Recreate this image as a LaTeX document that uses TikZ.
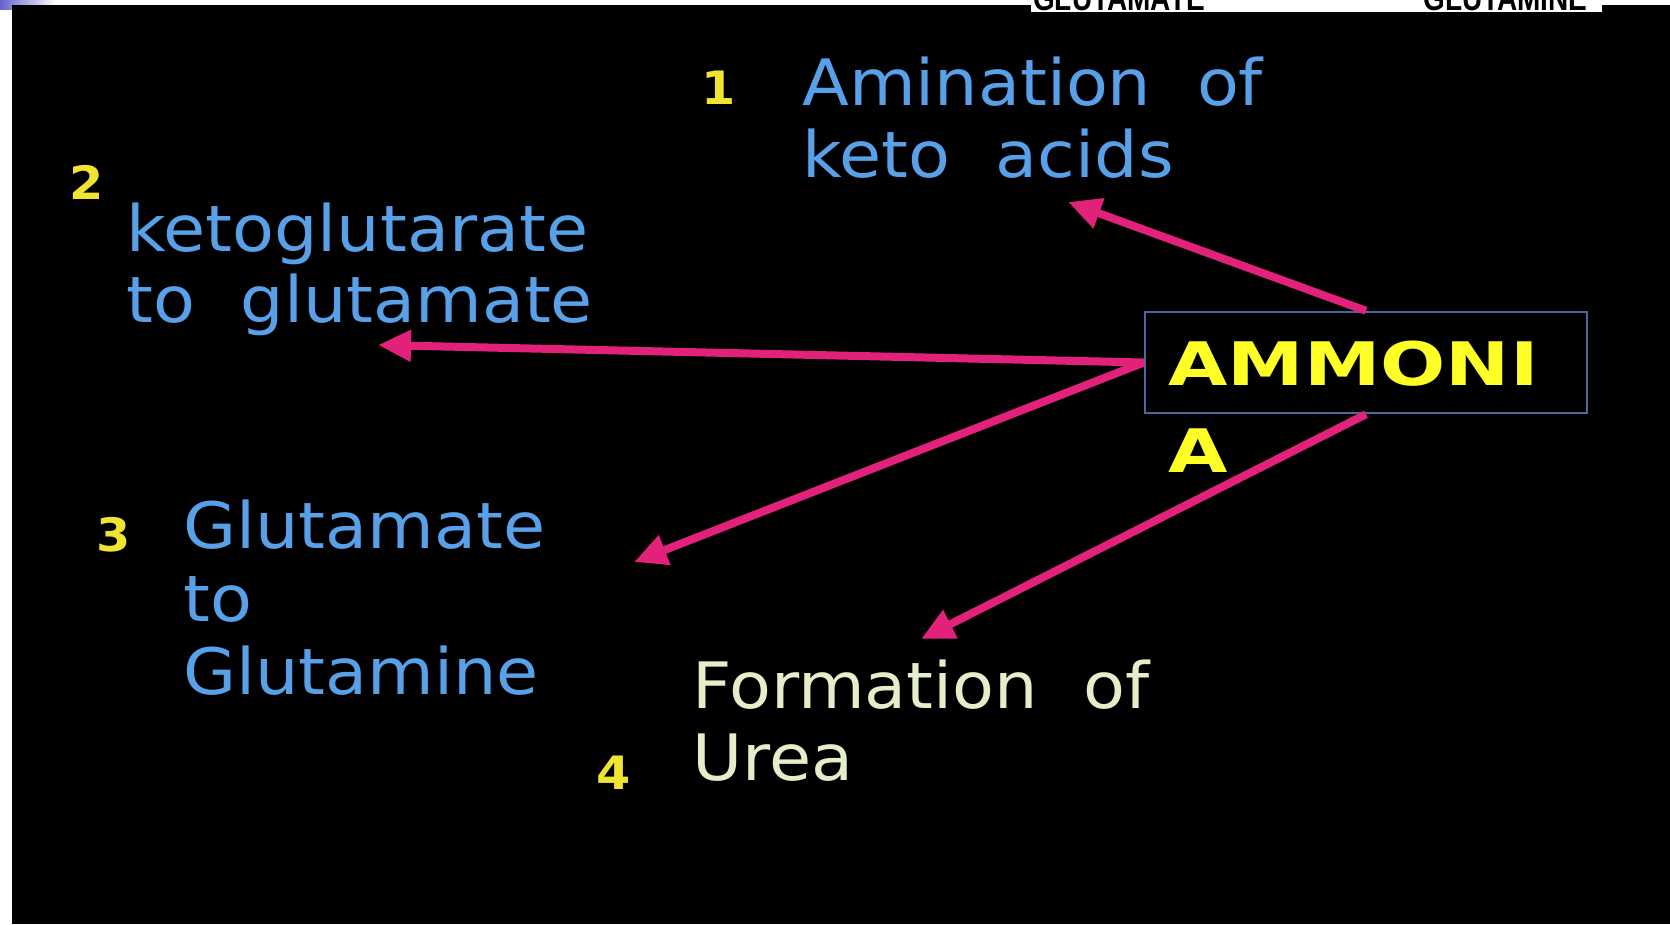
\documentclass[tikz,border=0pt]{standalone}
\usepackage{fontspec}
\usetikzlibrary{arrows.meta}
\setmainfont{DejaVu Sans}
\newfontfamily\comic[FakeStretch=1.07,WordSpace=2.1]{DejaVu Sans}
\newfontfamily\comicwide[FakeStretch=1.28]{DejaVu Sans}
\newfontfamily\glfont[FakeStretch=0.8]{Liberation Sans}
\definecolor{txtblue}{RGB}{88,160,232}
\definecolor{numyellow}{RGB}{240,228,50}
\definecolor{amyellow}{RGB}{255,255,40}
\definecolor{cream}{RGB}{228,238,200}
\definecolor{arrpink}{RGB}{226,34,122}
\definecolor{boxblue}{RGB}{74,104,160}
\definecolor{gradblue}{RGB}{100,100,205}
\tikzset{
  base/.style={anchor=base west, inner sep=0pt},
  bluetxt/.style={base, text=txtblue, font=\comic\fontsize{64}{76}\selectfont},
  creamtxt/.style={base, text=cream, font=\comic\fontsize{64}{76}\selectfont},
  numtxt/.style={base, text=numyellow, font=\comic\bfseries\fontsize{46}{54}\selectfont},
  amtxt/.style={base, text=amyellow, font=\comicwide\bfseries\fontsize{60}{70}\selectfont},
  ambox/.style={draw=boxblue, line width=2.5pt, minimum width=442pt, minimum height=101pt, inner sep=0pt},
  arr/.style={draw=arrpink, line width=8pt, -{Triangle[length=33pt,width=30pt]}},
  gltxt/.style={base, text=black, font=\glfont\bfseries\fontsize{35}{40}\selectfont}
}
\begin{document}
\begin{tikzpicture}[x=1pt,y=-1pt]
\useasboundingbox (0,0) rectangle (1670,924);
% background
\fill[white] (0,0) rectangle (1670,924);
\shade[left color=gradblue, right color=white] (0,0) rectangle (56,9);
\fill[black] (12,5) rectangle (1670,924);
% cut-off header
\fill[white] (1031,0) rectangle (1602,12);
\begin{scope}
\clip (1031,0) rectangle (1602,12);
\node[gltxt] (g1) at (1033,10) {GLUTAMATE};
\node[gltxt] (g2) at (1423,10) {GLUTAMINE};
\end{scope}
% central box
\node[ambox] (box) at (1366,362.5) {};
\node[amtxt] (am1) at (1168,385) {AMMONI};
\node[amtxt] (am2) at (1168,472) {A};
% labels
\node[numtxt] (n1) at (701,104) {1};
\node[bluetxt] (t1a) at (802,105) {Amination of};
\node[bluetxt] (t1b) at (802,177) {keto acids};
\node[numtxt] (n2) at (69,199) {2};
\node[bluetxt] (t2a) at (126,251) {ketoglutarate};
\node[bluetxt] (t2b) at (126,322) {to glutamate};
\node[numtxt] (n3) at (96,551) {3};
\node[bluetxt] (t3a) at (183,548) {Glutamate};
\node[bluetxt] (t3b) at (183,621) {to};
\node[bluetxt] (t3c) at (183,694) {Glutamine};
\node[creamtxt] (t4a) at (692,708) {Formation of};
\node[creamtxt] (t4b) at (692,780) {Urea};
\node[numtxt] (n4) at (596,789) {4};
% arrow ends
\coordinate (e1) at (1068,202);
\coordinate (e2) at (378,345);
\coordinate (e3) at (634,562);
\coordinate (e4) at (921,639);
\draw[arr] (box.north) -- (e1);
\draw[arr] (box.west) -- (e2);
\draw[arr] (box.west) -- (e3);
\draw[arr] (box.south) -- (e4);
\end{tikzpicture}
\end{document}
